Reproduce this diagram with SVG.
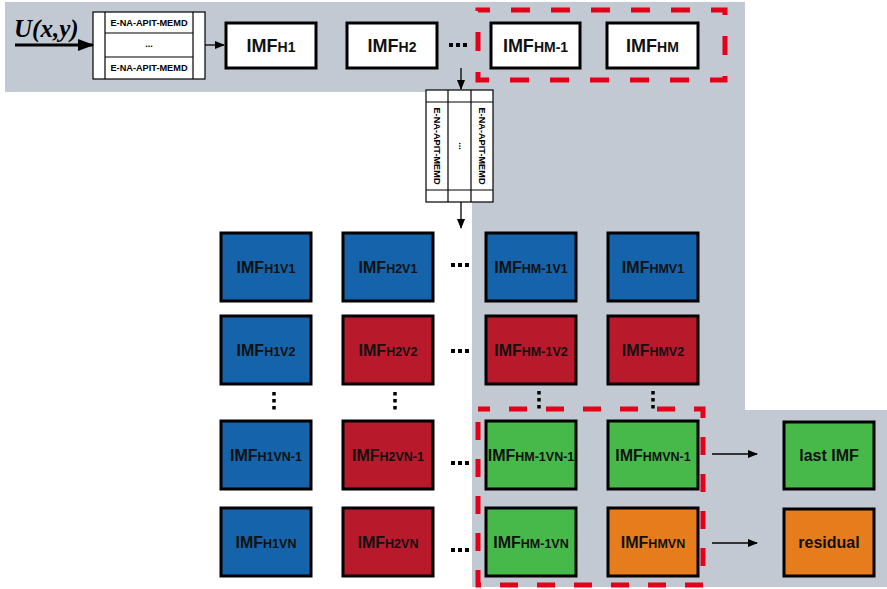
<svg xmlns="http://www.w3.org/2000/svg" width="887" height="589" viewBox="0 0 887 589">
<defs>
<style>
.bg{fill:#c3c9d3}
.box{stroke:#000;stroke-width:3}
.w{fill:#fff}
.b{fill:#1463ab}
.r{fill:#b81a2c}
.g{fill:#47b94a}
.o{fill:#e77c1c}
.t{font-family:"Liberation Sans",Arial,sans-serif;font-weight:bold;fill:#111;text-anchor:middle}
.gt{font-size:16px}
.tt{font-size:18px}
.s{font-size:12.5px}
.ts{font-size:14px}
.tab{fill:#fff;stroke:#000;stroke-width:1.2}
.tl{stroke:#000;stroke-width:1.2}
.tabt{font-family:"Liberation Sans",Arial,sans-serif;font-weight:bold;font-size:9.2px;fill:#000;text-anchor:middle}
.red{fill:none;stroke:#e3001b;stroke-width:5}
.ar{stroke:#000;stroke-width:1.3;fill:none;marker-end:url(#ah)}
.dot{fill:#000}
</style>
<marker id="ah" markerWidth="10" markerHeight="8" refX="9" refY="4" orient="auto" markerUnits="userSpaceOnUse">
<path d="M0,0 L10,4 L0,8 Z" fill="#000"/>
</marker>
<marker id="ahb" markerWidth="16" markerHeight="12" refX="15" refY="6" orient="auto" markerUnits="userSpaceOnUse">
<path d="M0,0 L16,6 L0,12 Z" fill="#000"/>
</marker>
<g id="hd"><rect x="0" y="-2" width="4" height="4"/><rect x="7" y="-2" width="4" height="4"/><rect x="14" y="-2" width="4" height="4"/></g>
<g id="vd"><rect x="-1.75" y="-9" width="3.5" height="3.5"/><rect x="-1.75" y="-2" width="3.5" height="3.5"/><rect x="-1.75" y="5" width="3.5" height="3.5"/></g>
</defs>

<path class="bg" d="M5,2 H745 V410 H887 V587 H472 V92 H5 Z"/>

<g id="input">
<text x="14" y="37" font-family="Liberation Serif,'Times New Roman',serif" font-style="italic" font-weight="bold" font-size="25" fill="#000">U(x,y)</text>
</g>

<g id="table-h">
<rect class="tab" x="93" y="12" width="112" height="67"/>
<line class="tl" x1="105" y1="12" x2="105" y2="79"/>
<line class="tl" x1="193" y1="12" x2="193" y2="79"/>
<line class="tl" x1="105" y1="33" x2="193" y2="33"/>
<line class="tl" x1="105" y1="57" x2="193" y2="57"/>
<text class="tabt" x="149" y="25.5">E-NA-APIT-MEMD</text>
<text class="tabt" x="149" y="47">...</text>
<text class="tabt" x="149" y="71">E-NA-APIT-MEMD</text>
</g>

<g id="table-v">
<rect class="tab" x="426" y="90" width="67" height="112"/>
<line class="tl" x1="426" y1="102" x2="493" y2="102"/>
<line class="tl" x1="426" y1="190" x2="493" y2="190"/>
<line class="tl" x1="448" y1="90" x2="448" y2="202"/>
<line class="tl" x1="471" y1="90" x2="471" y2="202"/>
<text class="tabt" transform="translate(437,146) rotate(90)" y="3.3">E-NA-APIT-MEMD</text>
<text class="tabt" transform="translate(460,146) rotate(90)" y="1">...</text>
<text class="tabt" transform="translate(482,146) rotate(90)" y="3.3">E-NA-APIT-MEMD</text>
</g>

<g id="IMFH1"><rect class="box w" x="226" y="23" width="90" height="45"/><text class="t tt" x="271" y="52">IMF<tspan class="ts">H1</tspan></text></g>
<g id="IMFH2"><rect class="box w" x="347" y="23" width="90" height="45"/><text class="t tt" x="392" y="52">IMF<tspan class="ts">H2</tspan></text></g>
<g id="IMFHM-1"><rect class="box w" x="491" y="23" width="89" height="45"/><text class="t tt" x="535.5" y="52">IMF<tspan class="ts">HM-1</tspan></text></g>
<g id="IMFHM"><rect class="box w" x="607" y="23" width="91" height="45"/><text class="t tt" x="652.5" y="52">IMF<tspan class="ts">HM</tspan></text></g>
<use href="#hd" class="dot" x="449" y="45"/>

<rect id="sel-top" class="red" x="478" y="10" width="247" height="70" stroke-dasharray="19 21" stroke-dashoffset="7"/>

<g id="H1V1"><rect class="box b" x="221" y="233" width="90" height="68"/><text class="t gt" x="266" y="273">IMF<tspan class="s">H1V1</tspan></text></g>
<g id="H2V1"><rect class="box b" x="343" y="233" width="90" height="68"/><text class="t gt" x="388" y="273">IMF<tspan class="s">H2V1</tspan></text></g>
<g id="HM-1V1"><rect class="box b" x="486" y="233" width="90" height="68"/><text class="t gt" x="531" y="273">IMF<tspan class="s">HM-1V1</tspan></text></g>
<g id="HMV1"><rect class="box b" x="608" y="233" width="90" height="68"/><text class="t gt" x="653" y="273">IMF<tspan class="s">HMV1</tspan></text></g>

<g id="H1V2"><rect class="box b" x="221" y="316" width="90" height="68"/><text class="t gt" x="266" y="356">IMF<tspan class="s">H1V2</tspan></text></g>
<g id="H2V2"><rect class="box r" x="343" y="316" width="90" height="68"/><text class="t gt" x="388" y="356">IMF<tspan class="s">H2V2</tspan></text></g>
<g id="HM-1V2"><rect class="box r" x="486" y="316" width="90" height="68"/><text class="t gt" x="531" y="356">IMF<tspan class="s">HM-1V2</tspan></text></g>
<g id="HMV2"><rect class="box r" x="608" y="316" width="90" height="68"/><text class="t gt" x="653" y="356">IMF<tspan class="s">HMV2</tspan></text></g>

<g id="H1VN-1"><rect class="box b" x="221" y="421" width="90" height="68"/><text class="t gt" x="266" y="461">IMF<tspan class="s">H1VN-1</tspan></text></g>
<g id="H2VN-1"><rect class="box r" x="343" y="421" width="90" height="68"/><text class="t gt" x="388" y="461">IMF<tspan class="s">H2VN-1</tspan></text></g>
<g id="HM-1VN-1"><rect class="box g" x="486" y="421" width="90" height="68"/><text class="t gt" x="531" y="461">IMF<tspan class="s">HM-1VN-1</tspan></text></g>
<g id="HMVN-1"><rect class="box g" x="608" y="421" width="90" height="68"/><text class="t gt" x="653" y="461">IMF<tspan class="s">HMVN-1</tspan></text></g>

<g id="H1VN"><rect class="box b" x="221" y="508" width="90" height="68"/><text class="t gt" x="266" y="548">IMF<tspan class="s">H1VN</tspan></text></g>
<g id="H2VN"><rect class="box r" x="343" y="508" width="90" height="68"/><text class="t gt" x="388" y="548">IMF<tspan class="s">H2VN</tspan></text></g>
<g id="HM-1VN"><rect class="box g" x="486" y="508" width="90" height="68"/><text class="t gt" x="531" y="548">IMF<tspan class="s">HM-1VN</tspan></text></g>
<g id="HMVN"><rect class="box o" x="608" y="508" width="90" height="68"/><text class="t gt" x="653" y="548">IMF<tspan class="s">HMVN</tspan></text></g>

<g id="lastIMF"><rect class="box g" x="784" y="422" width="90" height="67"/><text class="t gt" x="829" y="461">last IMF</text></g>
<g id="residual"><rect class="box o" x="784" y="509" width="90" height="67"/><text class="t gt" x="829" y="548">residual</text></g>

<rect id="sel-bottom" class="red" x="478" y="409" width="225" height="176" stroke-dasharray="18 19" stroke-dashoffset="6"/>

<g id="ellipses" class="dot">
<use href="#hd" x="451" y="265"/>
<use href="#hd" x="451" y="351"/>
<use href="#hd" x="451" y="463"/>
<use href="#hd" x="451" y="550"/>
<use href="#vd" x="274" y="401"/>
<use href="#vd" x="395" y="401"/>
<use href="#vd" x="539" y="400"/>
<use href="#vd" x="653" y="400"/>
</g>

<g id="connectors">
<line x1="15" y1="45" x2="93" y2="45" stroke="#000" stroke-width="3" marker-end="url(#ahb)"/>
<line class="ar" x1="205" y1="45" x2="224" y2="45"/>
<line class="ar" x1="461" y1="68" x2="461" y2="89"/>
<line class="ar" x1="461" y1="202" x2="461" y2="228"/>
<line class="ar" x1="712" y1="454" x2="757" y2="454"/>
<line class="ar" x1="712" y1="543" x2="757" y2="543"/>
</g>
</svg>
